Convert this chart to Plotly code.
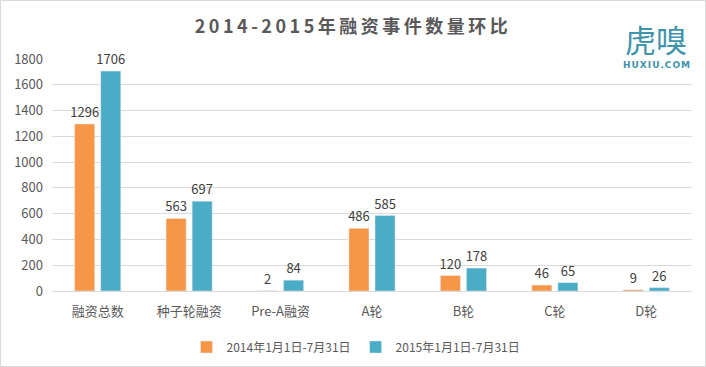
import plotly.graph_objects as go

categories = ["融资总数", "种子轮融资", "Pre-A融资", "A轮", "B轮", "C轮", "D轮"]
values_2014 = [1296, 563, 2, 486, 120, 46, 9]
values_2015 = [1706, 697, 84, 585, 178, 65, 26]
series_names = ["2014年1月1日-7月31日", "2015年1月1日-7月31日"]
y_ticks = [0, 200, 400, 600, 800, 1000, 1200, 1400, 1600, 1800]

W, H = 706, 367
ML, MR, MT, MB = 52, 14, 59, 76
PW, PH = W - ML - MR, H - MT - MB
FONT = "Noto Sans CJK SC, Microsoft YaHei, sans-serif"

fig = go.Figure()
for name, vals, col in [(series_names[0], values_2014, "#F79646"),
                        (series_names[1], values_2015, "#4BACC6")]:
    fig.add_trace(go.Bar(x=categories, y=vals, name=name, marker_color=col,
                         text=vals, textposition="outside", constraintext="none",
                         textfont=dict(size=13, color="#404040"), cliponaxis=False))

fig.update_layout(
    width=W, height=H,
    margin=dict(l=ML, r=MR, t=MT, b=MB, autoexpand=False),
    paper_bgcolor="white", plot_bgcolor="white",
    font=dict(family=FONT, color="#595959", size=13),
    barmode="group", bargap=0.43, bargroupgap=0.23,
    showlegend=True,
    legend=dict(orientation="h", x=(356 - ML) / PW, xanchor="center", yref="container",
                y=1 - 347 / H, yanchor="middle",
                font=dict(size=12, color="#595959"), itemwidth=30, traceorder="normal"),
    title=dict(text='<span style="letter-spacing:3.5px"><b>2014-2015年融资事件数量环比</b></span>',
               x=353 / W, xanchor="center",
               y=1 - 27 / H, yanchor="middle", font=dict(size=18, color="#595959", family=FONT)),
    xaxis=dict(showline=True, linecolor="#D9D9D9", linewidth=1, ticks="", automargin=False,
               tickfont=dict(size=13, color="#595959"), ticklabelstandoff=8, fixedrange=True),
    yaxis=dict(range=[0, 1800], tickvals=y_ticks, showgrid=True, gridcolor="#D9D9D9",
               zeroline=False, ticks="", automargin=False, fixedrange=True,
               tickfont=dict(size=13, color="#595959"), ticklabelstandoff=8),
)

# logo
fig.add_annotation(text="虎嗅", xref="paper", yref="paper", x=(656 - ML) / PW, y=1 + (MT - 38) / PH,
                   showarrow=False, xanchor="center", yanchor="middle",
                   font=dict(size=31, color="#3F93AB", family=FONT))
fig.add_annotation(text='<span style="letter-spacing:1px"><b>HUXIU.COM</b></span>',
                   xref="paper", yref="paper", x=(657 - ML) / PW,
                   y=1 - (65 - MT) / PH, showarrow=False, xanchor="center", yanchor="middle",
                   font=dict(size=9, color="#3F93AB", family="DejaVu Sans"))

# border
fig.add_shape(type="rect", xref="paper", yref="paper",
              x0=(0.5 - ML) / PW, x1=(W - 0.5 - ML) / PW,
              y0=-(MB - 0.5) / PH, y1=1 + (MT - 0.5) / PH,
              line=dict(color="#D9D9D9", width=1), layer="below")

fig.write_html("out.html", config={"displayModeBar": False},
               post_script="document.body.style.margin='0';document.body.style.overflow='hidden';")
